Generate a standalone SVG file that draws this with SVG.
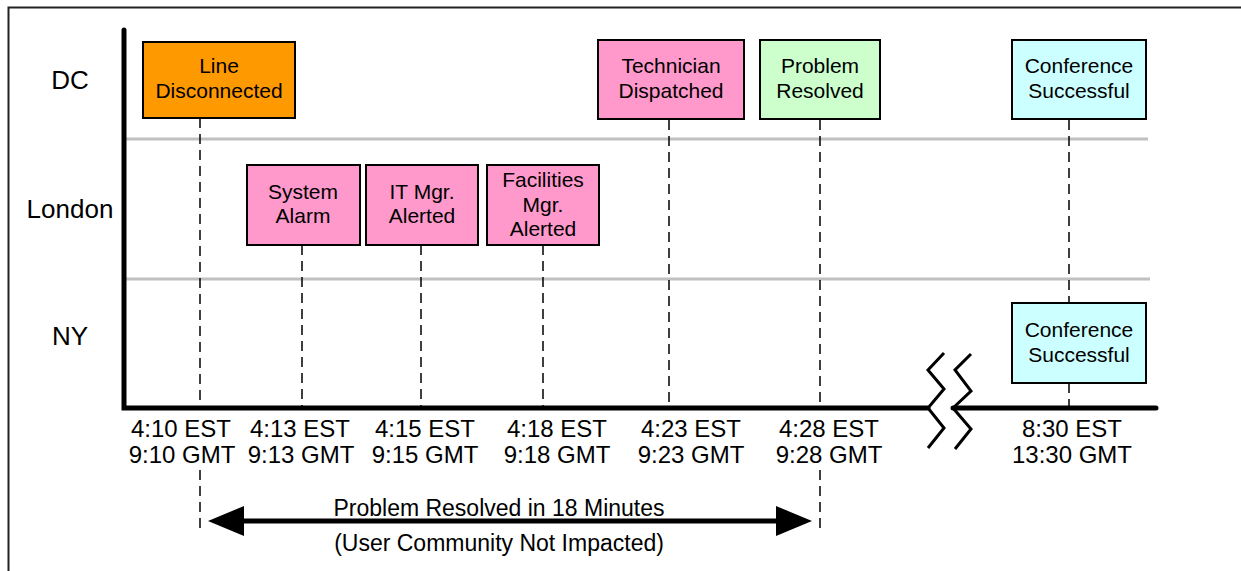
<svg xmlns="http://www.w3.org/2000/svg" width="1241" height="571" viewBox="0 0 1241 571">
<defs>
<style>
text{font-family:"Liberation Sans",Arial,sans-serif;fill:#000;text-anchor:middle}
.box{stroke:#000;stroke-width:2}
.bt{font-size:21px}
.sl{font-size:23px}
.tl{font-size:24px}
.rl{font-size:26px}
.dash{stroke:#000;stroke-width:1.5;stroke-dasharray:10 6;fill:none}
.grid{stroke:#c0c0c0;stroke-width:3}
.axis{stroke:#000;stroke-width:5;stroke-linecap:round;fill:none}
.zig{stroke:#000;stroke-width:3;fill:none}
.o{fill:#ff9900}.p{fill:#ff99cc}.g{fill:#ccffcc}.c{fill:#ccffff}
</style>
</defs>
<rect width="1241" height="571" fill="#fff"/>
<path d="M8.5,571 V7.5 H1241" stroke="#222" stroke-width="2" fill="none"/>
<g id="grid">
<line class="grid" x1="126" y1="139" x2="1148" y2="139"/>
<line class="grid" x1="126" y1="279" x2="1150" y2="279"/>
</g>
<g id="rows">
<text class="rl" x="70" y="89">DC</text>
<text class="rl" x="70" y="218">London</text>
<text class="rl" x="70" y="345">NY</text>
</g>
<g id="connectors">
<line class="dash" x1="200" y1="118" x2="200" y2="406"/>
<line class="dash" x1="200" y1="470" x2="200" y2="532"/>
<line class="dash" x1="302" y1="245" x2="302" y2="406"/>
<line class="dash" x1="421" y1="245" x2="421" y2="406"/>
<line class="dash" x1="543" y1="245" x2="543" y2="406"/>
<line class="dash" x1="669" y1="120" x2="669" y2="406"/>
<line class="dash" x1="820" y1="120" x2="820" y2="406"/>
<line class="dash" x1="820" y1="470" x2="820" y2="532"/>
<line class="dash" x1="1069" y1="120" x2="1069" y2="303"/>
<line class="dash" x1="1069" y1="383" x2="1069" y2="406"/>
<line x1="232" y1="521" x2="788" y2="521" stroke="#000" stroke-width="5"/>
<path d="M208,521 L244,506 L244,536 z" fill="#000"/>
<path d="M812,521 L776,506 L776,536 z" fill="#000"/>
</g>
<g id="axes">
<path class="axis" d="M124,30 V408 H928"/>
<path class="axis" d="M953,408 H1156" stroke-linecap="butt"/>
<path class="zig" d="M944,353 L928,370 L944,389 L928,408 L944,428 L928,448"/>
<path class="zig" d="M971,354 L955,370 L971,391 L953,408 L971,429 L955,449"/>
</g>
<g id="n-line-disconnected">
<rect class="box o" x="143" y="42" width="152" height="76"/>
<text class="bt" x="219" y="73">Line</text>
<text class="bt" x="219" y="98">Disconnected</text>
</g>
<g id="n-technician">
<rect class="box p" x="598" y="40" width="146" height="79"/>
<text class="bt" x="671" y="73">Technician</text>
<text class="bt" x="671" y="98">Dispatched</text>
</g>
<g id="n-problem-resolved">
<rect class="box g" x="760" y="40" width="120" height="79"/>
<text class="bt" x="820" y="73">Problem</text>
<text class="bt" x="820" y="98">Resolved</text>
</g>
<g id="n-conference-dc">
<rect class="box c" x="1012" y="40" width="134" height="79"/>
<text class="bt" x="1079" y="73">Conference</text>
<text class="bt" x="1079" y="98">Successful</text>
</g>
<g id="n-system-alarm">
<rect class="box p" x="247" y="165" width="113" height="80"/>
<text class="bt" x="303" y="199">System</text>
<text class="bt" x="303" y="223">Alarm</text>
</g>
<g id="n-it-mgr">
<rect class="box p" x="366" y="165" width="112" height="80"/>
<text class="bt" x="422" y="199">IT Mgr.</text>
<text class="bt" x="422" y="223">Alerted</text>
</g>
<g id="n-facilities">
<rect class="box p" x="487" y="165" width="112" height="80"/>
<text class="bt" x="543" y="187">Facilities</text>
<text class="bt" x="543" y="212">Mgr.</text>
<text class="bt" x="543" y="236">Alerted</text>
</g>
<g id="n-conference-ny">
<rect class="box c" x="1012" y="303" width="134" height="80"/>
<text class="bt" x="1079" y="337">Conference</text>
<text class="bt" x="1079" y="362">Successful</text>
</g>
<g id="times">
<text class="tl" x="181" y="437">4:10 EST</text><text class="tl" x="182" y="463">9:10 GMT</text>
<text class="tl" x="300" y="437">4:13 EST</text><text class="tl" x="301" y="463">9:13 GMT</text>
<text class="tl" x="425" y="437">4:15 EST</text><text class="tl" x="425" y="463">9:15 GMT</text>
<text class="tl" x="557" y="437">4:18 EST</text><text class="tl" x="557" y="463">9:18 GMT</text>
<text class="tl" x="691" y="437">4:23 EST</text><text class="tl" x="691" y="463">9:23 GMT</text>
<text class="tl" x="829" y="437">4:28 EST</text><text class="tl" x="829" y="463">9:28 GMT</text>
<text class="tl" x="1072" y="437">8:30 EST</text><text class="tl" x="1072" y="463">13:30 GMT</text>
</g>
<g id="span-label">
<text class="sl" x="499" y="516">Problem Resolved in 18 Minutes</text>
<text class="sl" x="499" y="551">(User Community Not Impacted)</text>
</g>
</svg>
